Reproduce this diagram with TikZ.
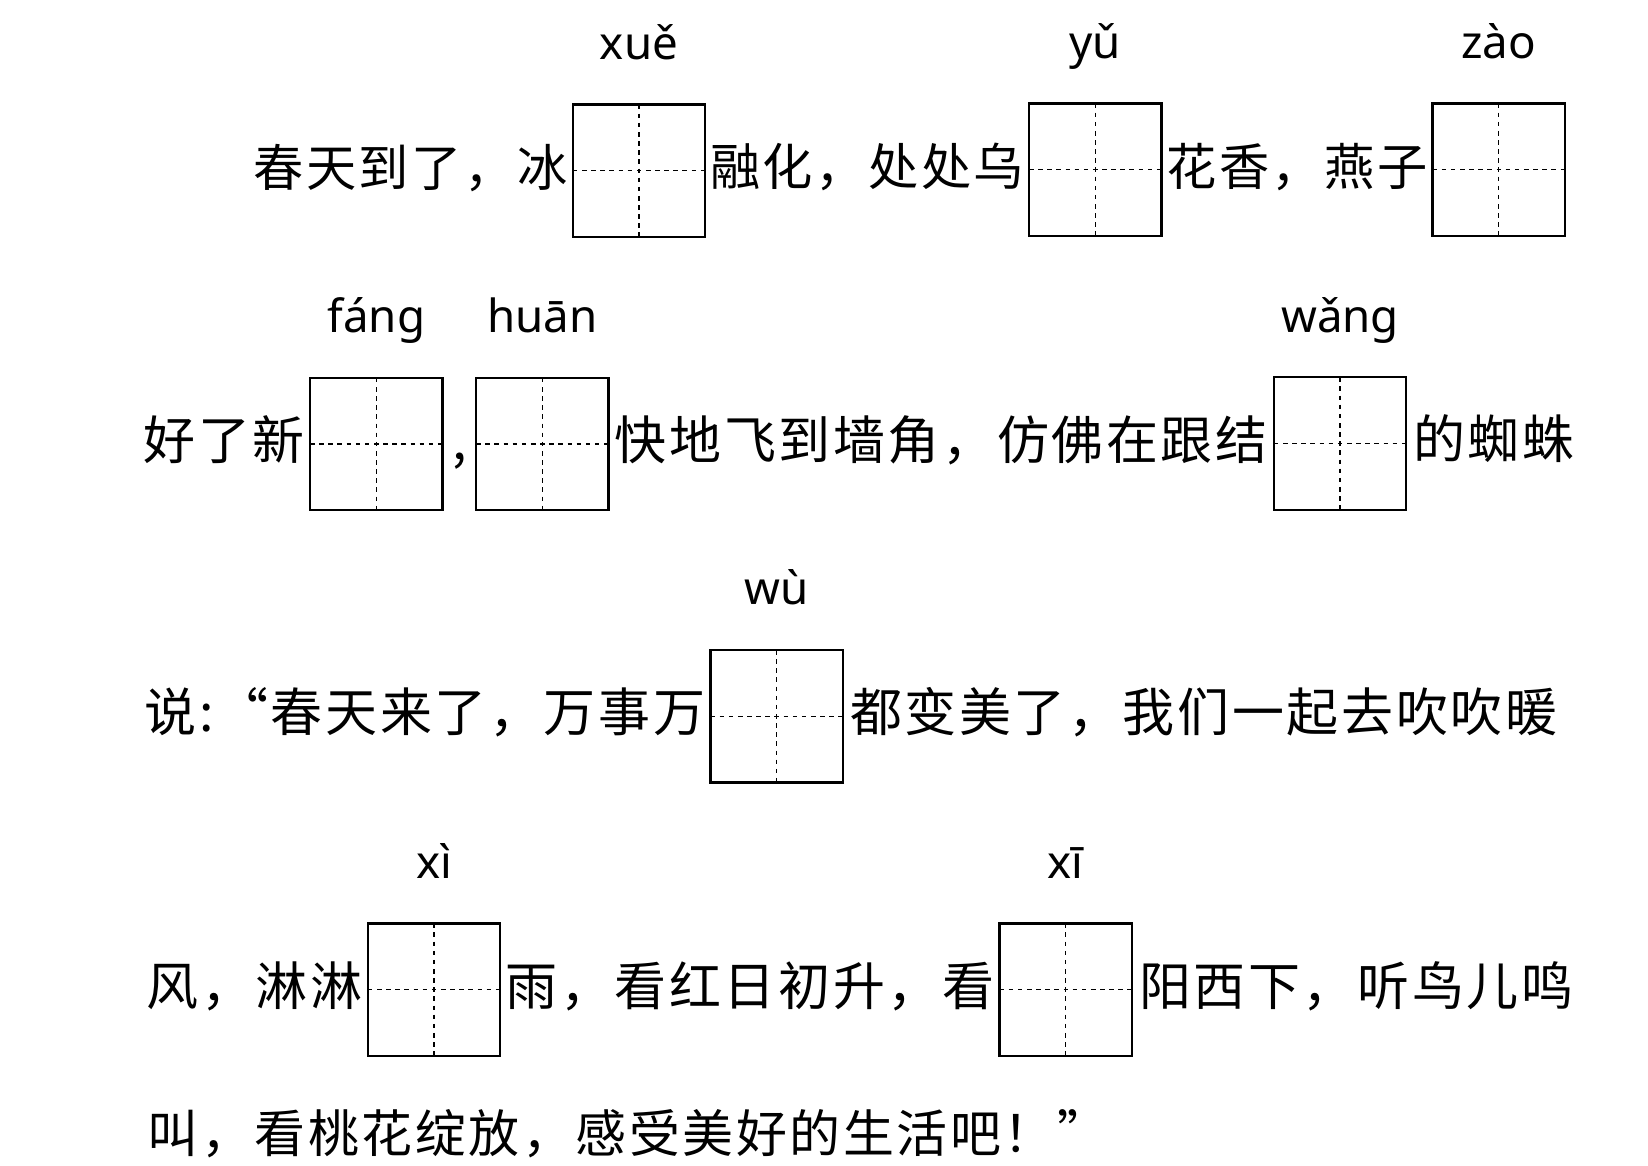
\documentclass[tikz,border=0pt]{standalone}
\usepackage{fontspec}
\setsansfont{Noto Sans}
\newfontfamily\zhfont[LetterSpace=5]{Noto Sans CJK SC}
\usetikzlibrary{positioning, calc}

\tikzset{
  tianzi/.style={draw, line width=0.65pt, minimum size=1.324cm, inner sep=0pt,
    path picture={\draw[line width=0.35pt, dash pattern=on 1.3pt off 1.3pt]
      (path picture bounding box.north) -- (path picture bounding box.south)
      (path picture bounding box.west) -- (path picture bounding box.east);}},
  pinyin/.style={font=\sffamily\fontsize{13pt}{13pt}\selectfont, inner sep=0pt},
  hanzi/.style={font=\zhfont\fontsize{14.8pt}{14.8pt}\selectfont, inner sep=0pt,
    text height=1.0em, text depth=0.12em},
  hanzia/.style={hanzi, font=\zhfont\fontsize{14.3pt}{14.3pt}\selectfont},
}

\begin{document}
\begin{tikzpicture}[x=0.01051cm, y=-0.01051cm]
\useasboundingbox (0,0) rectangle (1568,1108.5);

% boxes
\node[tianzi] (b1) at (608,162.5) {};
\node[tianzi] (b2) at (1042,161.5) {};
\node[tianzi] (b3) at (1426,161.5) {};
\node[tianzi] (b4) at (358,422.5) {};
\node[tianzi] (b5) at (516,422.5) {};
\node[tianzi] (b6) at (1275,422) {};
\node[tianzi] (b7) at (739,681.5) {};
\node[tianzi] (b8) at (413,941.5) {};
\node[tianzi] (b9) at (1014,941.5) {};

% pinyin
\node[pinyin, above=0.44cm of b1.north, anchor=base] (p1) {xuě};
\node[pinyin, above=0.44cm of b2.north, anchor=base] (p2) {yǔ};
\node[pinyin, above=0.44cm of b3.north, anchor=base] (p3) {zào};
\node[pinyin, above=0.44cm of b4.north, anchor=base] (p4) {fáng};
\node[pinyin, above=0.44cm of b5.north, anchor=base] (p5) {huān};
\node[pinyin, above=0.44cm of b6.north, anchor=base] (p6) {wǎng};
\node[pinyin, above=0.44cm of b7.north, anchor=base] (p7) {wù};
\node[pinyin, above=0.44cm of b8.north, anchor=base] (p8) {xì};
\node[pinyin, above=0.44cm of b9.north, anchor=base] (p9) {xī};

% text
\node[hanzia, left=1pt of b1] (t1) {春天到了，冰};
\node[hanzia] (t2) at ($(b1.east)!0.5!(b2.west)$) {融化，处处乌};
\node[hanzia] (t3) at ($(b2.east)!0.5!(b3.west)$) {花香，燕子};

\node[hanzi, left=1pt of b4] (t4) {好了新};
\node[hanzi] (t5) at ($(b4.east)!0.5!(b5.west)$) {,};
\node[hanzi] (t6) at ($(b5.east)!0.5!(b6.west)$) {快地飞到墙角，仿佛在跟结};
\node[hanzi, right=1.5pt of b6] (t7) {的蜘蛛};

\node[hanzi, left=1pt of b7] (t8) {说:“春天来了，万事万};
\node[hanzi, right=1.5pt of b7] (t9) {都变美了，我们一起去吹吹暖};

\node[hanzi, left=1pt of b8] (t10) {风，淋淋};
\node[hanzi] (t11) at ($(b8.east)!0.5!(b9.west)$) {雨，看红日初升，看};
\node[hanzi, right=1.5pt of b9] (t12) {阳西下，听鸟儿鸣};

\node[hanzi, font=\zhfont\fontsize{14.5pt}{14.5pt}\selectfont, anchor=base west] (t13) at (140,1097) {叫，看桃花绽放，感受美好的生活吧！”};

\end{tikzpicture}
\end{document}
